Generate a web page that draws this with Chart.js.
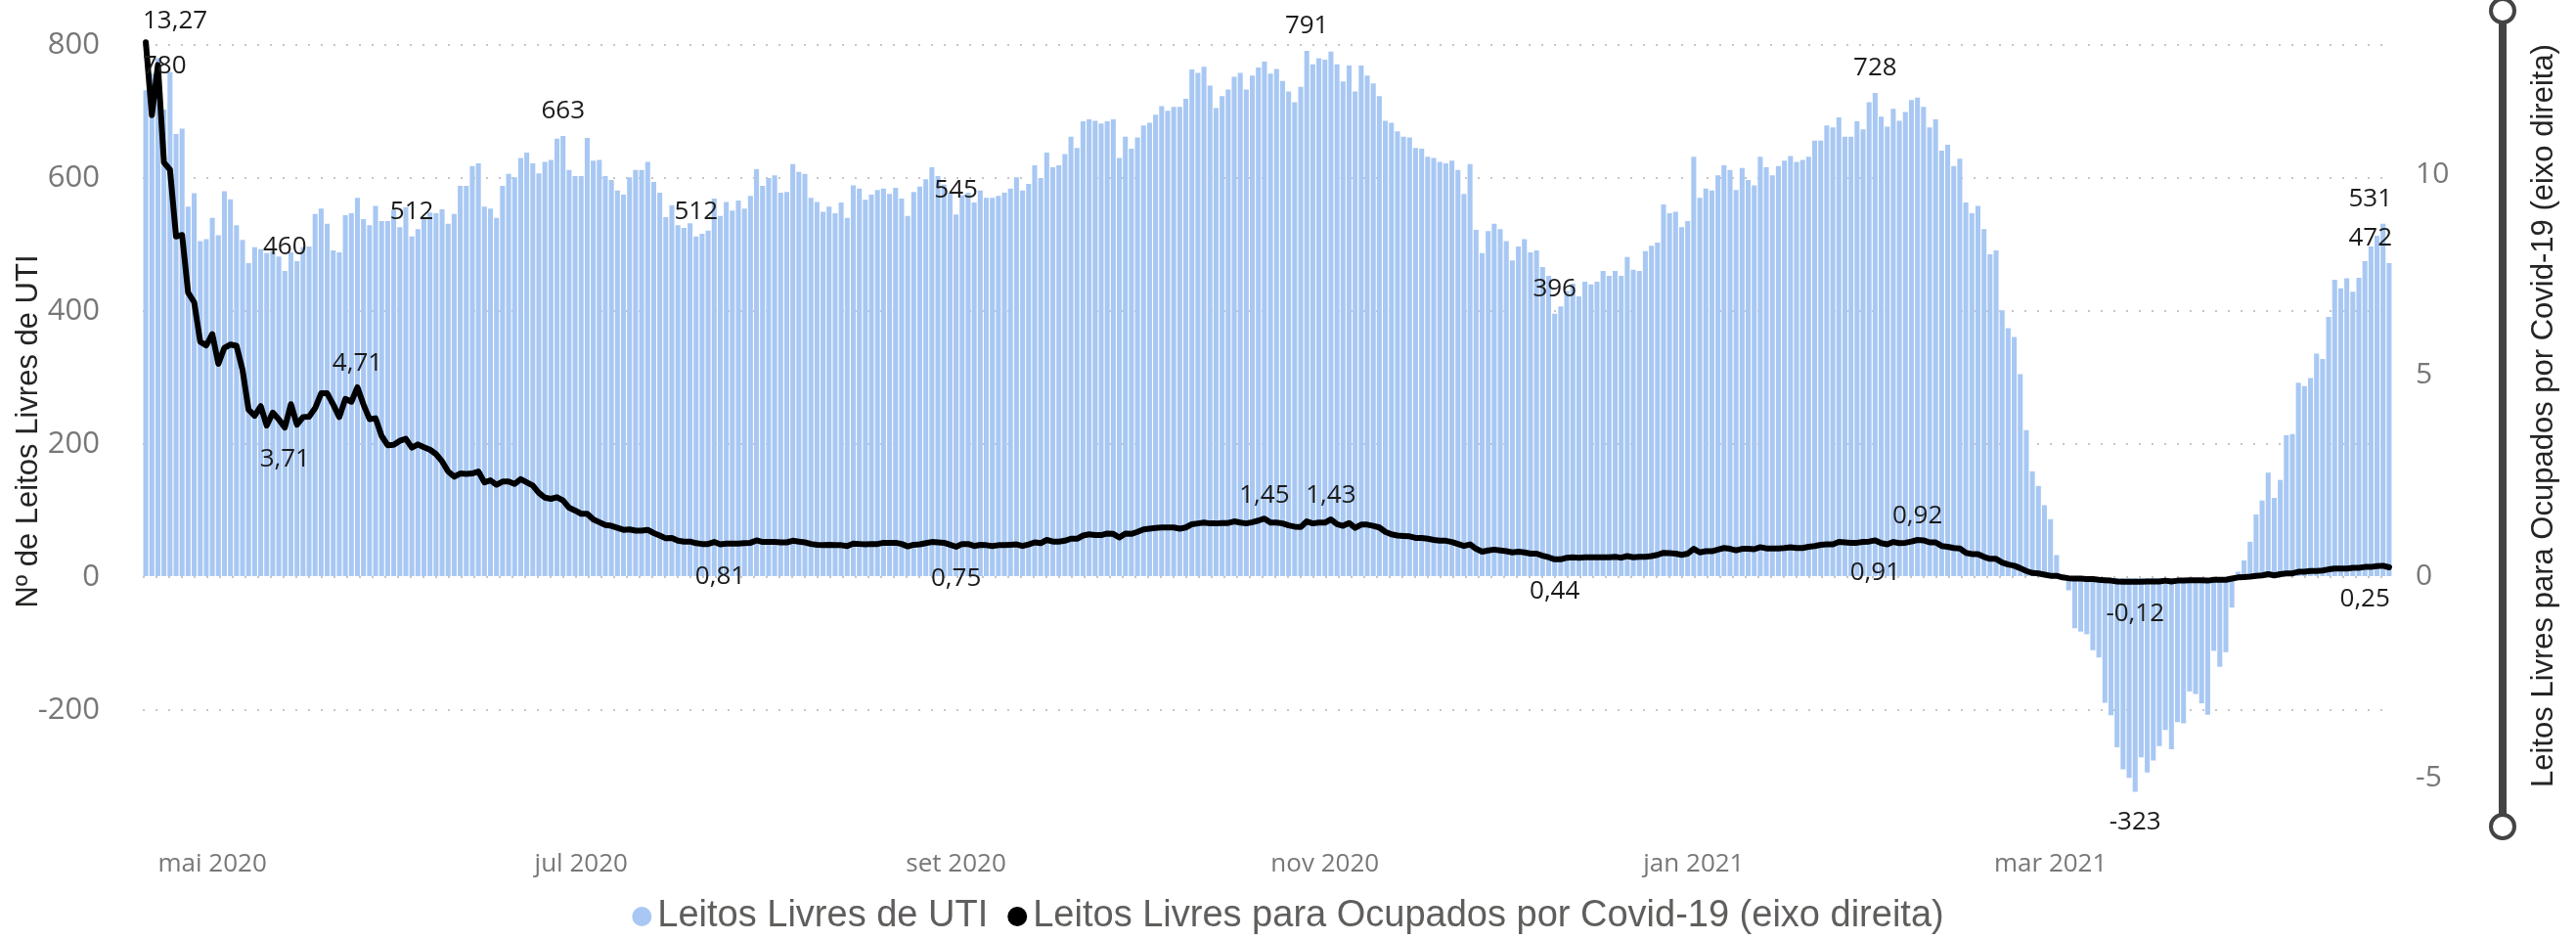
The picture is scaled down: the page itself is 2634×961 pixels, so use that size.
<!DOCTYPE html>
<html lang="pt-BR">
<head>
<meta charset="utf-8">
<title>Leitos Livres de UTI</title>
<script src="https://cdn.jsdelivr.net/npm/chart.js@4.4.0/dist/chart.umd.min.js"></script>
<style>
  html, body { margin: 0; padding: 0; background: #ffffff; }
  #wrap { width: 2634px; height: 961px; }
</style>
</head>
<body>
<div id="wrap"><canvas id="leitosChart" width="2634" height="961"></canvas></div>
<script>
// Dados (um valor por dia, a partir de 20/04/2020)
const primeiroDia = '2020-04-20';

const leitosLivres = [
    732, 757, 780, 703, 759, 666, 674, 557, 577, 505,
    508, 540, 514, 580, 568, 529, 507, 472, 496, 493,
    487, 490, 482, 460, 488, 475, 496, 497, 546, 554,
    531, 491, 488, 544, 547, 570, 538, 529, 558, 535,
    535, 552, 526, 556, 512, 523, 539, 548, 547, 553,
    531, 546, 588, 588, 618, 622, 557, 554, 540, 588,
    606, 601, 630, 638,
    622, 607, 624, 627, 659, 663, 612, 603, 603, 660,
    626, 627, 603, 597, 581, 575, 601, 612, 612, 624,
    594, 578, 541, 559, 529, 525, 532, 512, 516, 521,
    569, 543, 564, 551, 566, 554, 573, 613, 588, 600,
    604, 578, 579, 621, 609, 606, 570, 564, 549, 557,
    547, 563, 540, 589, 584, 567, 575, 582, 584, 576,
    585, 569, 543,
    579, 587, 598, 616, 603, 590, 578, 545, 574, 578,
    563, 581, 570, 570, 573, 578, 584, 601, 581, 591,
    619, 600, 638, 616, 619, 636, 662, 645, 685, 688,
    686, 682, 685, 688, 630, 662, 644, 661, 679, 683,
    695, 708, 701, 707, 707, 719, 763, 758, 767, 739,
    705, 723, 733, 752, 758, 733, 754, 766, 775, 757,
    764, 746, 730,
    714, 737, 791, 771, 780, 778, 790, 771, 745, 769,
    730, 769, 754, 742, 723, 686, 683, 670, 662, 661,
    645, 644, 632, 630, 624, 622, 626, 612, 576, 621,
    522, 487, 520, 531, 523, 505, 476, 497, 508, 488,
    491, 466, 453, 396, 407, 430, 441, 422, 444, 440,
    444, 460, 453, 460, 453, 481, 462, 460, 490, 498,
    503, 560,
    547, 549, 526, 535, 632, 570, 584, 581,
    604, 619, 612, 582, 615, 597, 589, 632, 616, 604,
    618, 626, 633, 624, 627, 632, 656, 656, 679, 676,
    691, 662, 662, 685, 673, 714, 728, 692, 677, 704,
    686, 699, 717, 721, 707, 676, 688, 641, 650, 618,
    629, 563, 547, 558, 523, 485, 491, 401, 374, 361,
    305, 221, 159, 137, 108, 87,
    33, 2, -20, -77, -82, -86, -110, -121, -189, -208,
    -256, -289, -302, -323, -271, -294, -276, -254, -230, -259,
    -218, -220, -172, -176, -190, -207, -111, -135, -113, -46,
    8, 25, 53, 94, 115, 157, 119, 146, 213, 215,
    292, 287, 299, 336, 328, 391, 447, 434, 449, 429,
    450, 475, 497, 513, 531, 472
];

const livresPorOcupados = [
    13.27, 11.46, 12.71, 10.29, 10.11, 8.45, 8.49, 7.06, 6.82, 5.84,
    5.75, 6.03, 5.29, 5.69, 5.77, 5.74, 5.14, 4.15, 4.00, 4.24,
    3.76, 4.08, 3.91, 3.71, 4.29, 3.78, 3.97, 3.98, 4.19, 4.56,
    4.56, 4.28, 3.97, 4.42, 4.35, 4.71, 4.28, 3.92, 3.94, 3.50,
    3.27, 3.28, 3.38, 3.43, 3.21, 3.29, 3.22, 3.16, 3.05, 2.87,
    2.62, 2.49, 2.57, 2.56, 2.57, 2.62, 2.35, 2.40, 2.29, 2.37,
    2.37, 2.31, 2.43, 2.35, 2.27, 2.09, 1.97, 1.94, 1.98, 1.90,
    1.72, 1.65, 1.57, 1.57, 1.43, 1.36, 1.29, 1.27, 1.22, 1.17,
    1.18, 1.15, 1.15, 1.17, 1.09, 1.03, 0.96, 0.97, 0.90, 0.88,
    0.88, 0.84, 0.82, 0.82, 0.87, 0.81, 0.83, 0.83, 0.83, 0.84,
    0.85, 0.91, 0.87, 0.87, 0.87, 0.86, 0.86, 0.90, 0.88, 0.86,
    0.82, 0.80, 0.79, 0.80, 0.79, 0.79, 0.77, 0.83, 0.82, 0.81,
    0.82, 0.82, 0.85, 0.85, 0.85, 0.82, 0.76, 0.80, 0.81, 0.84,
    0.87, 0.86, 0.85, 0.80, 0.75, 0.82, 0.82, 0.77, 0.80, 0.79,
    0.77, 0.79, 0.79, 0.80, 0.81, 0.77, 0.81, 0.86, 0.84, 0.92,
    0.88, 0.88, 0.90, 0.95, 0.95, 1.03, 1.06, 1.04, 1.04, 1.08,
    1.07, 0.98, 1.08, 1.07, 1.12, 1.18, 1.20, 1.22, 1.23, 1.23,
    1.23, 1.20, 1.23, 1.31, 1.33, 1.35, 1.33, 1.33, 1.34, 1.34,
    1.38, 1.35, 1.33, 1.36, 1.40, 1.45, 1.35, 1.35, 1.33, 1.28,
    1.25, 1.24, 1.38, 1.33, 1.35, 1.35, 1.43, 1.31, 1.27, 1.34,
    1.22, 1.30, 1.30, 1.27, 1.23, 1.12, 1.06, 1.03, 1.02, 1.01,
    0.97, 0.97, 0.95, 0.92, 0.90, 0.90, 0.87, 0.82, 0.77, 0.81,
    0.70, 0.63, 0.66, 0.68, 0.66, 0.64, 0.61, 0.63, 0.61, 0.58,
    0.58, 0.53, 0.49, 0.44, 0.44, 0.48, 0.49, 0.48, 0.49, 0.49,
    0.49, 0.49, 0.49, 0.50, 0.48, 0.52, 0.49, 0.50, 0.50, 0.52,
    0.55, 0.60, 0.59, 0.58, 0.55, 0.58, 0.70, 0.61, 0.64, 0.64,
    0.68, 0.72, 0.70, 0.66, 0.70, 0.70, 0.69, 0.74, 0.71, 0.71,
    0.71, 0.72, 0.74, 0.72, 0.72, 0.75, 0.77, 0.80, 0.81, 0.81,
    0.87, 0.86, 0.85, 0.85, 0.87, 0.88, 0.91, 0.84, 0.81, 0.87,
    0.84, 0.85, 0.88, 0.92, 0.91, 0.86, 0.86, 0.77, 0.75, 0.72,
    0.71, 0.60, 0.57, 0.57, 0.50, 0.45, 0.45, 0.36, 0.31, 0.28,
    0.22, 0.15, 0.10, 0.09, 0.06, 0.03, 0.03, -0.01, -0.03, -0.04,
    -0.04, -0.05, -0.05, -0.07, -0.08, -0.09, -0.11, -0.12, -0.12, -0.12,
    -0.12, -0.11, -0.11, -0.11, -0.09, -0.11, -0.09, -0.09, -0.08, -0.08,
    -0.08, -0.09, -0.07, -0.07, -0.07, -0.04, -0.01, 0.00, 0.01, 0.03,
    0.04, 0.07, 0.04, 0.07, 0.09, 0.09, 0.13, 0.13, 0.15, 0.15,
    0.16, 0.19, 0.21, 0.21, 0.21, 0.23, 0.23, 0.25, 0.25, 0.27,
    0.28, 0.24
];

// Rótulos do eixo X e marcas dos eixos Y
const datasMarcadas = ['2020-05-01', '2020-07-01', '2020-09-01', '2020-11-01', '2021-01-01', '2021-03-01'];
const textosMarcados = ['mai 2020', 'jul 2020', 'set 2020', 'nov 2020', 'jan 2021', 'mar 2021'];
const ticksEsquerda = [-200, 0, 200, 400, 600, 800];
const ticksDireita = [-5, 0, 5, 10];

// Pontos com rótulo de dados (posição 1 = primeiro dia)
const rotulosBarras = [3, 24, 45, 70, 92, 135, 193, 234, 287, 330, 371, 372];
const rotulosLinha = [1, 24, 36, 96, 135, 186, 197, 234, 287, 294, 330, 368];
const ladoRotulosLinha = ['a', 'b', 'a', 'b', 'b', 'a', 'a', 'b', 'b', 'a', 'b', 'b'];

// Estilo
const corBarras = '#a8c8f3';
const fonteTicks = "'Segoe UI', 'Open Sans', sans-serif";
const fonteTitulos = "'Liberation Sans', Arial, sans-serif";
const ajusteRotulo = { 3: 33 };

// Dias (categorias) a partir do primeiro dia
const dias = [];
for (let i = 0; i < leitosLivres.length; i++) {
    const d = new Date(Date.parse(primeiroDia + 'T00:00:00Z') + i * 86400000);
    dias.push(d.toISOString().slice(0, 10));
}

function formatarBR(v, casas) {
    return v.toFixed(casas).replace('.', ',');
}

function escreverRotulo(ctx, area, texto, x, y) {
    const w = ctx.measureText(texto).width;
    x = Math.min(Math.max(x, area.left + w / 2), area.right - w / 2);
    y = Math.max(y, 22);
    ctx.fillText(texto, x, y);
}

// Plugin para os rótulos de dados
const pluginRotulos = {
    id: 'rotulos',
    afterDatasetsDraw(chart) {
        const ctx = chart.ctx;
        const area = chart.chartArea;
        const barras = chart.getDatasetMeta(0).data;
        const linha = chart.getDatasetMeta(1).data;
        ctx.save();
        ctx.font = '26px ' + fonteTicks;
        ctx.fillStyle = '#1b1b1b';
        ctx.textAlign = 'center';
        ctx.textBaseline = 'middle';

        rotulosBarras.forEach(function (n) {
            const el = barras[n - 1];
            const v = leitosLivres[n - 1];
            let y = v >= 0 ? el.y - 25 : el.y + 31;
            y += ajusteRotulo[n] || 0;
            escreverRotulo(ctx, area, String(v), el.x, y);
        });

        rotulosLinha.forEach(function (n, k) {
            const el = linha[n - 1];
            const v = livresPorOcupados[n - 1];
            const y = ladoRotulosLinha[k] === 'a' ? el.y - 24 : el.y + 33;
            escreverRotulo(ctx, area, formatarBR(v, 2), el.x, y);
        });
        ctx.restore();
    }
};

// Plugin para título do eixo direito, controle deslizante e legenda
const pluginDecoracao = {
    id: 'decoracao',
    afterDraw(chart) {
        const ctx = chart.ctx;
        const W = chart.width;
        ctx.save();

        // título do eixo direito (de baixo para cima)
        ctx.translate(2601, 425);
        ctx.rotate(-Math.PI / 2);
        ctx.font = '31px ' + fonteTitulos;
        ctx.fillStyle = '#252423';
        ctx.textAlign = 'center';
        ctx.textBaseline = 'middle';
        ctx.fillText(chart.data.datasets[1].label, 0, 0);
        ctx.restore();

        // controle deslizante do eixo
        ctx.save();
        ctx.strokeStyle = '#444444';
        ctx.lineWidth = 8;
        ctx.beginPath();
        ctx.moveTo(2559, 11);
        ctx.lineTo(2559, 845);
        ctx.stroke();
        [11, 845].forEach(function (cy) {
            ctx.beginPath();
            ctx.arc(2559, cy, 12, 0, Math.PI * 2);
            ctx.fillStyle = '#ffffff';
            ctx.fill();
            ctx.lineWidth = 4;
            ctx.stroke();
        });
        ctx.restore();

        // legenda
        ctx.save();
        ctx.font = '38px ' + fonteTitulos;
        ctx.textBaseline = 'middle';
        const itens = [
            { cor: corBarras, texto: chart.data.datasets[0].label },
            { cor: '#000000', texto: chart.data.datasets[1].label }
        ];
        const r = 10, gapTexto = 16, gapItem = 30, yLeg = 937;
        const larguras = itens.map(it => ctx.measureText(it.texto).width);
        const total = r + gapTexto + larguras[0] + gapItem + gapTexto + larguras[1];
        let cx = (W - total) / 2 + r;
        itens.forEach(function (it, k) {
            ctx.beginPath();
            ctx.arc(cx, yLeg, r, 0, Math.PI * 2);
            ctx.fillStyle = it.cor;
            ctx.fill();
            ctx.fillStyle = '#605e5c';
            ctx.fillText(it.texto, cx + gapTexto, yLeg);
            cx += gapTexto + larguras[k] + gapItem;
        });
        ctx.restore();
    }
};

const dadosGrafico = {
    labels: dias,
    datasets: [
        {
            type: 'bar',
            label: 'Leitos Livres de UTI',
            data: leitosLivres,
            backgroundColor: corBarras,
            barPercentage: 0.82,
            categoryPercentage: 1.0,
            yAxisID: 'y',
            order: 1
        },
        {
            type: 'line',
            label: 'Leitos Livres para Ocupados por Covid-19 (eixo direita)',
            data: livresPorOcupados,
            borderColor: '#000000',
            borderWidth: 6,
            pointRadius: 0,
            tension: 0,
            borderJoinStyle: 'round',
            borderCapStyle: 'round',
            yAxisID: 'y1',
            order: 0
        }
    ]
};

// Largura fixa dos eixos verticais, sem folga extra acima/abaixo
function fixarLargura(largura) {
    return function (s) {
        s.width = largura;
        s.paddingTop = 0;
        s.paddingBottom = 0;
    };
}

function initChart() {
    const ctx = document.getElementById('leitosChart').getContext('2d');
    new Chart(ctx, {
        type: 'bar',
        data: dadosGrafico,
        plugins: [pluginRotulos, pluginDecoracao],
        options: {
            responsive: false,
            animation: false,
            devicePixelRatio: 1,
            layout: { padding: { top: 33, left: 0, right: 0, bottom: 48 } },
            plugins: {
                legend: { display: false },
                tooltip: { enabled: false }
            },
            scales: {
                x: {
                    offset: true,
                    grid: { display: false },
                    border: { display: false },
                    ticks: {
                        autoSkip: false,
                        maxRotation: 0,
                        minRotation: 0,
                        padding: 11,
                        color: '#777777',
                        font: { family: fonteTicks, size: 26 },
                        callback: function (v, i) {
                            const k = datasMarcadas.indexOf(dias[i]);
                            return k >= 0 ? textosMarcados[k] : null;
                        }
                    },
                    afterFit: function (s) { s.height = 64; }
                },
                y: {
                    position: 'left',
                    min: -381,
                    max: 819,
                    afterBuildTicks: function (s) { s.ticks = ticksEsquerda.map(v => ({ value: v })); },
                    grid: { color: '#c8c6c4', lineWidth: 2, drawTicks: false },
                    border: { display: false, dash: [2, 11] },
                    ticks: {
                        padding: 44,
                        color: '#777777',
                        font: { family: fonteTicks, size: 31 }
                    },
                    title: {
                        display: true,
                        text: 'Nº de Leitos Livres de UTI',
                        color: '#252423',
                        font: { family: fonteTitulos, size: 31 },
                        padding: { top: 11, bottom: 0 }
                    },
                    afterFit: fixarLargura(146)
                },
                y1: {
                    position: 'right',
                    min: -6.29,
                    max: 13.52,
                    afterBuildTicks: function (s) { s.ticks = ticksDireita.map(v => ({ value: v })); },
                    grid: { drawOnChartArea: false, drawTicks: false },
                    border: { display: false },
                    ticks: {
                        padding: 24,
                        color: '#777777',
                        font: { family: fonteTicks, size: 30 }
                    },
                    afterFit: fixarLargura(188)
                }
            }
        }
    });
}

document.addEventListener('DOMContentLoaded', function () {
    initChart();
});
</script>
</body>
</html>
